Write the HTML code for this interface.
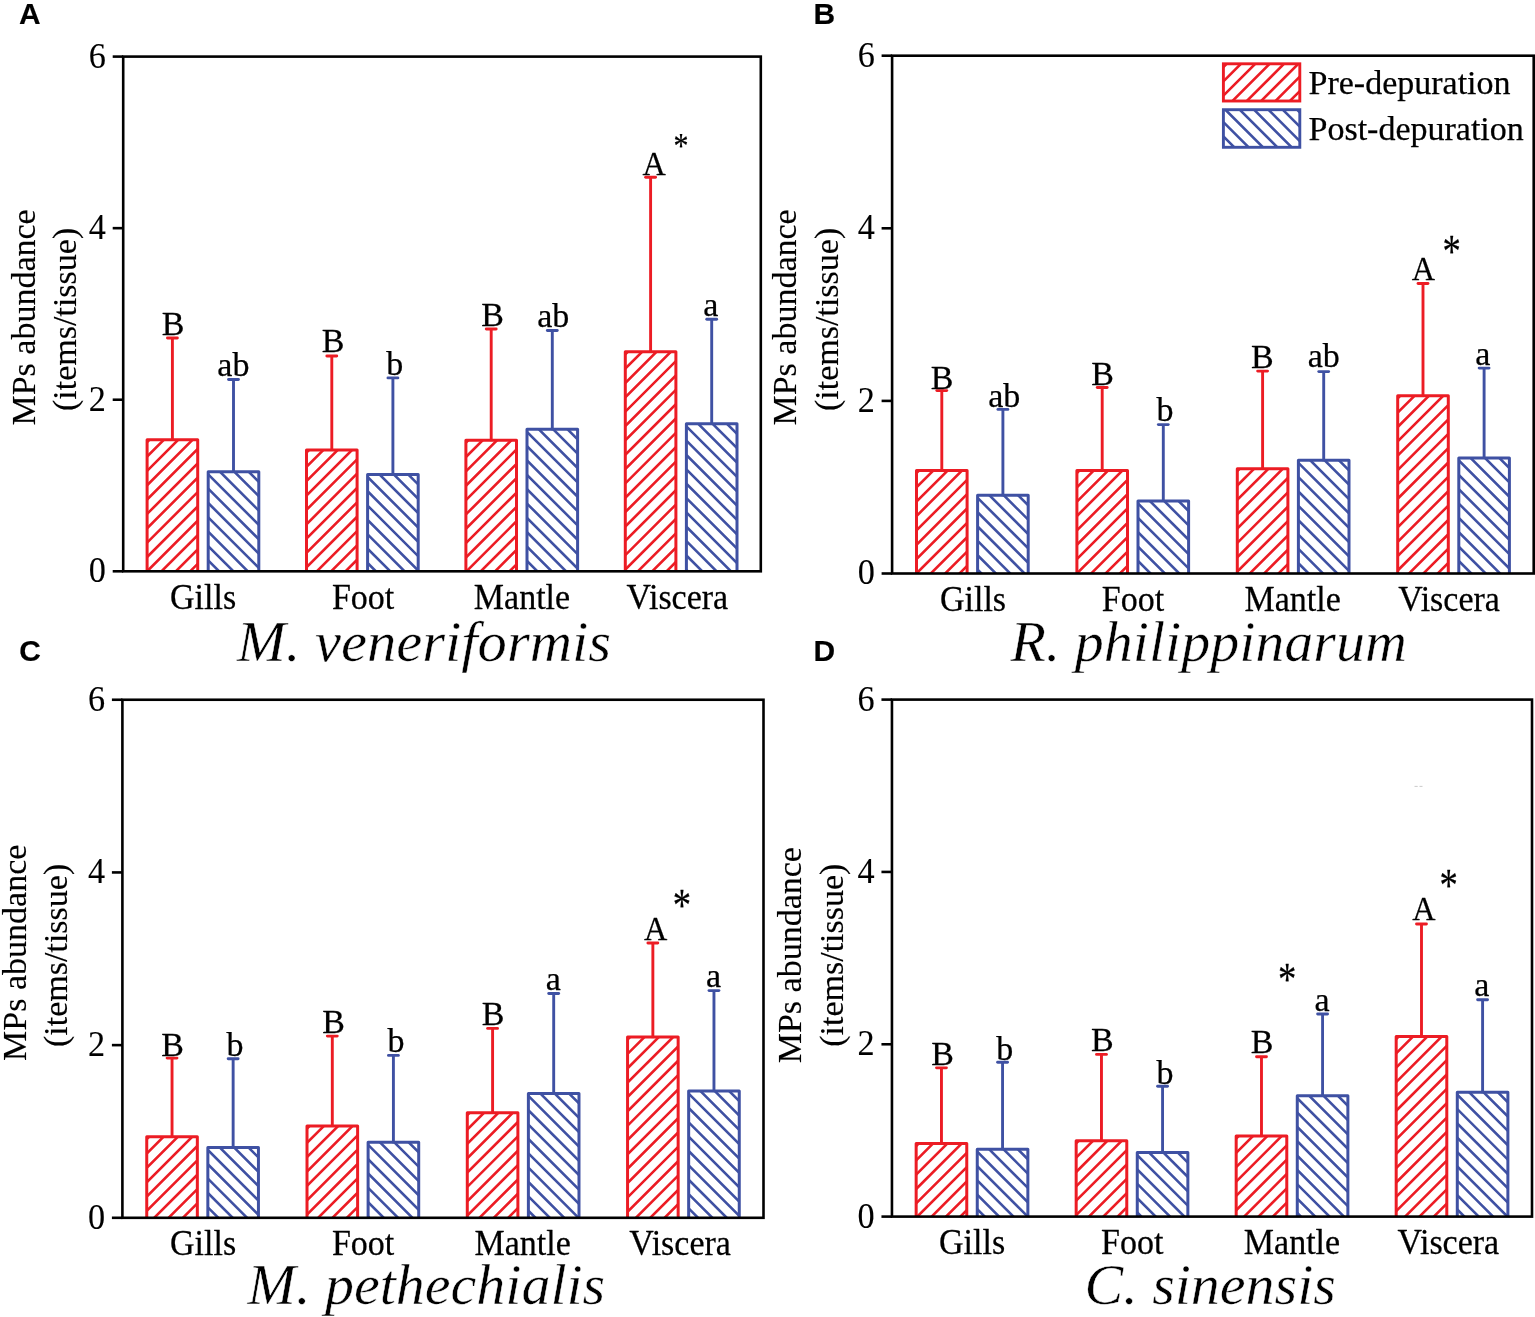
<!DOCTYPE html>
<html lang="en"><head><meta charset="utf-8"><title>MPs abundance in bivalve tissues</title>
<style>html,body{margin:0;padding:0;background:#fff}body{width:1535px;height:1317px;overflow:hidden}svg{display:block;filter:blur(.4px)}text{fill:#000;stroke-linejoin:round}</style>
</head><body>
<svg width="1535" height="1317" viewBox="0 0 1535 1317" role="img" aria-label="MPs abundance in four bivalve species before and after depuration">
<rect width="1535" height="1317" fill="#fff"/>
<g id="panel-A">
<path d="M172.4 440.7V338" stroke="#ec1c24" stroke-width="2.9" fill="none"/>
<path d="M167.45 338H177.35" stroke="#ec1c24" stroke-width="2.9" fill="none" stroke-linecap="round"/>
<clipPath id="c1"><rect x="147.1" y="439.7" width="50.6" height="131.6"/></clipPath>
<path d="M147.1 442.2L197.7 391.6M147.1 456.55L197.7 405.95M147.1 470.9L197.7 420.3M147.1 485.25L197.7 434.65M147.1 499.6L197.7 449M147.1 513.95L197.7 463.35M147.1 528.3L197.7 477.7M147.1 542.65L197.7 492.05M147.1 557L197.7 506.4M147.1 571.35L197.7 520.75M147.1 585.7L197.7 535.1M147.1 600.05L197.7 549.45M147.1 614.4L197.7 563.8" stroke="#ec1c24" stroke-width="2.6" fill="none" clip-path="url(#c1)"/>
<path d="M147.1 571.3V439.7H197.7V571.3" stroke="#ec1c24" stroke-width="3" fill="none" stroke-linejoin="round"/>
<path d="M233.5 472.8V379.5" stroke="#3f51a3" stroke-width="2.9" fill="none"/>
<path d="M228.55 379.5H238.45" stroke="#3f51a3" stroke-width="2.9" fill="none" stroke-linecap="round"/>
<clipPath id="c2"><rect x="208.2" y="471.8" width="50.6" height="99.5"/></clipPath>
<path d="M208.2 431.25L258.8 481.85M208.2 445.6L258.8 496.2M208.2 459.95L258.8 510.55M208.2 474.3L258.8 524.9M208.2 488.65L258.8 539.25M208.2 503L258.8 553.6M208.2 517.35L258.8 567.95M208.2 531.7L258.8 582.3M208.2 546.05L258.8 596.65M208.2 560.4L258.8 611" stroke="#3f51a3" stroke-width="2.6" fill="none" clip-path="url(#c2)"/>
<path d="M208.2 571.3V471.8H258.8V571.3" stroke="#3f51a3" stroke-width="3" fill="none" stroke-linejoin="round"/>
<path d="M331.8 451V356" stroke="#ec1c24" stroke-width="2.9" fill="none"/>
<path d="M326.85 356H336.75" stroke="#ec1c24" stroke-width="2.9" fill="none" stroke-linecap="round"/>
<clipPath id="c3"><rect x="306.5" y="450" width="50.6" height="121.3"/></clipPath>
<path d="M306.5 452.5L357.1 401.9M306.5 466.85L357.1 416.25M306.5 481.2L357.1 430.6M306.5 495.55L357.1 444.95M306.5 509.9L357.1 459.3M306.5 524.25L357.1 473.65M306.5 538.6L357.1 488M306.5 552.95L357.1 502.35M306.5 567.3L357.1 516.7M306.5 581.65L357.1 531.05M306.5 596L357.1 545.4M306.5 610.35L357.1 559.75" stroke="#ec1c24" stroke-width="2.6" fill="none" clip-path="url(#c3)"/>
<path d="M306.5 571.3V450H357.1V571.3" stroke="#ec1c24" stroke-width="3" fill="none" stroke-linejoin="round"/>
<path d="M392.9 475.4V377.9" stroke="#3f51a3" stroke-width="2.9" fill="none"/>
<path d="M387.95 377.9H397.85" stroke="#3f51a3" stroke-width="2.9" fill="none" stroke-linecap="round"/>
<clipPath id="c4"><rect x="367.6" y="474.4" width="50.6" height="96.9"/></clipPath>
<path d="M367.6 433.85L418.2 484.45M367.6 448.2L418.2 498.8M367.6 462.55L418.2 513.15M367.6 476.9L418.2 527.5M367.6 491.25L418.2 541.85M367.6 505.6L418.2 556.2M367.6 519.95L418.2 570.55M367.6 534.3L418.2 584.9M367.6 548.65L418.2 599.25M367.6 563L418.2 613.6" stroke="#3f51a3" stroke-width="2.6" fill="none" clip-path="url(#c4)"/>
<path d="M367.6 571.3V474.4H418.2V571.3" stroke="#3f51a3" stroke-width="3" fill="none" stroke-linejoin="round"/>
<path d="M491.2 441.2V329" stroke="#ec1c24" stroke-width="2.9" fill="none"/>
<path d="M486.25 329H496.15" stroke="#ec1c24" stroke-width="2.9" fill="none" stroke-linecap="round"/>
<clipPath id="c5"><rect x="465.9" y="440.2" width="50.6" height="131.1"/></clipPath>
<path d="M465.9 442.7L516.5 392.1M465.9 457.05L516.5 406.45M465.9 471.4L516.5 420.8M465.9 485.75L516.5 435.15M465.9 500.1L516.5 449.5M465.9 514.45L516.5 463.85M465.9 528.8L516.5 478.2M465.9 543.15L516.5 492.55M465.9 557.5L516.5 506.9M465.9 571.85L516.5 521.25M465.9 586.2L516.5 535.6M465.9 600.55L516.5 549.95M465.9 614.9L516.5 564.3" stroke="#ec1c24" stroke-width="2.6" fill="none" clip-path="url(#c5)"/>
<path d="M465.9 571.3V440.2H516.5V571.3" stroke="#ec1c24" stroke-width="3" fill="none" stroke-linejoin="round"/>
<path d="M552.3 430.3V330.45" stroke="#3f51a3" stroke-width="2.9" fill="none"/>
<path d="M547.35 330.45H557.25" stroke="#3f51a3" stroke-width="2.9" fill="none" stroke-linecap="round"/>
<clipPath id="c6"><rect x="527" y="429.3" width="50.6" height="142"/></clipPath>
<path d="M527 388.75L577.6 439.35M527 403.1L577.6 453.7M527 417.45L577.6 468.05M527 431.8L577.6 482.4M527 446.15L577.6 496.75M527 460.5L577.6 511.1M527 474.85L577.6 525.45M527 489.2L577.6 539.8M527 503.55L577.6 554.15M527 517.9L577.6 568.5M527 532.25L577.6 582.85M527 546.6L577.6 597.2M527 560.95L577.6 611.55" stroke="#3f51a3" stroke-width="2.6" fill="none" clip-path="url(#c6)"/>
<path d="M527 571.3V429.3H577.6V571.3" stroke="#3f51a3" stroke-width="3" fill="none" stroke-linejoin="round"/>
<path d="M650.6 352.8V177.3" stroke="#ec1c24" stroke-width="2.9" fill="none"/>
<path d="M645.65 177.3H655.55" stroke="#ec1c24" stroke-width="2.9" fill="none" stroke-linecap="round"/>
<clipPath id="c7"><rect x="625.3" y="351.8" width="50.6" height="219.5"/></clipPath>
<path d="M625.3 354.3L675.9 303.7M625.3 368.65L675.9 318.05M625.3 383L675.9 332.4M625.3 397.35L675.9 346.75M625.3 411.7L675.9 361.1M625.3 426.05L675.9 375.45M625.3 440.4L675.9 389.8M625.3 454.75L675.9 404.15M625.3 469.1L675.9 418.5M625.3 483.45L675.9 432.85M625.3 497.8L675.9 447.2M625.3 512.15L675.9 461.55M625.3 526.5L675.9 475.9M625.3 540.85L675.9 490.25M625.3 555.2L675.9 504.6M625.3 569.55L675.9 518.95M625.3 583.9L675.9 533.3M625.3 598.25L675.9 547.65M625.3 612.6L675.9 562" stroke="#ec1c24" stroke-width="2.6" fill="none" clip-path="url(#c7)"/>
<path d="M625.3 571.3V351.8H675.9V571.3" stroke="#ec1c24" stroke-width="3" fill="none" stroke-linejoin="round"/>
<path d="M711.7 424.8V319.2" stroke="#3f51a3" stroke-width="2.9" fill="none"/>
<path d="M706.75 319.2H716.65" stroke="#3f51a3" stroke-width="2.9" fill="none" stroke-linecap="round"/>
<clipPath id="c8"><rect x="686.4" y="423.8" width="50.6" height="147.5"/></clipPath>
<path d="M686.4 383.25L737 433.85M686.4 397.6L737 448.2M686.4 411.95L737 462.55M686.4 426.3L737 476.9M686.4 440.65L737 491.25M686.4 455L737 505.6M686.4 469.35L737 519.95M686.4 483.7L737 534.3M686.4 498.05L737 548.65M686.4 512.4L737 563M686.4 526.75L737 577.35M686.4 541.1L737 591.7M686.4 555.45L737 606.05M686.4 569.8L737 620.4" stroke="#3f51a3" stroke-width="2.6" fill="none" clip-path="url(#c8)"/>
<path d="M686.4 571.3V423.8H737V571.3" stroke="#3f51a3" stroke-width="3" fill="none" stroke-linejoin="round"/>
<rect x="123.2" y="56.6" width="637.6" height="514.7" fill="none" stroke="#000" stroke-width="2.6"/>
<path d="M112.7 571.3H123.2" stroke="#000" stroke-width="2.6"/>
<text transform="translate(105.9 582.2) scale(1 1.07)" font-family="'Liberation Serif',serif" font-size="34.2" text-anchor="end" stroke="#000" stroke-width="0.1">0</text>
<path d="M112.7 399.73H123.2" stroke="#000" stroke-width="2.6"/>
<text transform="translate(105.9 410.63) scale(1 1.07)" font-family="'Liberation Serif',serif" font-size="34.2" text-anchor="end" stroke="#000" stroke-width="0.1">2</text>
<path d="M112.7 228.17H123.2" stroke="#000" stroke-width="2.6"/>
<text transform="translate(105.9 239.07) scale(1 1.07)" font-family="'Liberation Serif',serif" font-size="34.2" text-anchor="end" stroke="#000" stroke-width="0.1">4</text>
<path d="M112.7 56.6H123.2" stroke="#000" stroke-width="2.6"/>
<text transform="translate(105.9 67.5) scale(1 1.07)" font-family="'Liberation Serif',serif" font-size="34.2" text-anchor="end" stroke="#000" stroke-width="0.1">6</text>
<text transform="translate(203.1 609.2) scale(1 1.04)" font-family="'Liberation Serif',serif" font-size="34" text-anchor="middle" stroke="#000" stroke-width="0.25">Gills</text>
<text transform="translate(363.1 609.2) scale(1 1.04)" font-family="'Liberation Serif',serif" font-size="34" text-anchor="middle" stroke="#000" stroke-width="0.25">Foot</text>
<text transform="translate(522 609.2) scale(1 1.04)" font-family="'Liberation Serif',serif" font-size="34" text-anchor="middle" stroke="#000" stroke-width="0.25">Mantle</text>
<text transform="translate(677.3 609.2) scale(1 1.04)" font-family="'Liberation Serif',serif" font-size="34" text-anchor="middle" stroke="#000" stroke-width="0.25">Viscera</text>
<text transform="translate(173.2 334.7) scale(1 1.01)" font-family="'Liberation Serif',serif" font-size="34" text-anchor="middle" stroke="#000" stroke-width="0.25">B</text>
<text x="233.4" y="376.4" font-family="'Liberation Serif',serif" font-size="34" text-anchor="middle" stroke="#000" stroke-width="0.25">ab</text>
<text transform="translate(333.2 352.3) scale(1 1.01)" font-family="'Liberation Serif',serif" font-size="34" text-anchor="middle" stroke="#000" stroke-width="0.25">B</text>
<text x="394.7" y="374.7" font-family="'Liberation Serif',serif" font-size="34" text-anchor="middle" stroke="#000" stroke-width="0.25">b</text>
<text transform="translate(492.6 325.8) scale(1 1.01)" font-family="'Liberation Serif',serif" font-size="34" text-anchor="middle" stroke="#000" stroke-width="0.25">B</text>
<text x="553.3" y="326.5" font-family="'Liberation Serif',serif" font-size="34" text-anchor="middle" stroke="#000" stroke-width="0.25">ab</text>
<text transform="translate(654.2 174.8) scale(0.95 1)" font-family="'Liberation Serif',serif" font-size="34" text-anchor="middle" stroke="#000" stroke-width="0.25">A</text>
<text x="710.8" y="315.9" font-family="'Liberation Serif',serif" font-size="34" text-anchor="middle" stroke="#000" stroke-width="0.25">a</text>
<text transform="translate(681.1 158.3) scale(1 1.21)" font-family="'Liberation Serif',serif" font-size="30" text-anchor="middle" stroke="#000" stroke-width="0.2">*</text>
<text transform="translate(35.2 317.4) rotate(-90) scale(1 1)" font-family="'Liberation Serif',serif" font-size="34" text-anchor="middle" stroke="#000" stroke-width="0.15">MPs abundance</text>
<text transform="translate(76 319.4) rotate(-90) scale(1 1)" font-family="'Liberation Serif',serif" font-size="34" text-anchor="middle" stroke="#000" stroke-width="0.15">(items/tissue)</text>
<text transform="translate(424 660.6) scale(1.01 1)" font-family="'Liberation Serif',serif" font-size="58" text-anchor="middle" font-style="italic" stroke="#fff" stroke-width="0.45">M. veneriformis</text>
<text transform="translate(19.1 24) scale(1.04 1.0001)" font-family="'Liberation Sans',sans-serif" font-size="28.8" text-anchor="start" font-weight="bold" stroke="#000" stroke-width="0.15">A</text>
</g>
<g id="panel-B">
<path d="M941.8 471.5V390.6" stroke="#ec1c24" stroke-width="2.9" fill="none"/>
<path d="M936.85 390.6H946.75" stroke="#ec1c24" stroke-width="2.9" fill="none" stroke-linecap="round"/>
<clipPath id="c9"><rect x="916.5" y="470.5" width="50.6" height="103"/></clipPath>
<path d="M916.5 473L967.1 422.4M916.5 487.35L967.1 436.75M916.5 501.7L967.1 451.1M916.5 516.05L967.1 465.45M916.5 530.4L967.1 479.8M916.5 544.75L967.1 494.15M916.5 559.1L967.1 508.5M916.5 573.45L967.1 522.85M916.5 587.8L967.1 537.2M916.5 602.15L967.1 551.55M916.5 616.5L967.1 565.9" stroke="#ec1c24" stroke-width="2.6" fill="none" clip-path="url(#c9)"/>
<path d="M916.5 573.5V470.5H967.1V573.5" stroke="#ec1c24" stroke-width="3" fill="none" stroke-linejoin="round"/>
<path d="M1002.9 496.3V409.4" stroke="#3f51a3" stroke-width="2.9" fill="none"/>
<path d="M997.95 409.4H1007.85" stroke="#3f51a3" stroke-width="2.9" fill="none" stroke-linecap="round"/>
<clipPath id="c10"><rect x="977.6" y="495.3" width="50.6" height="78.2"/></clipPath>
<path d="M977.6 454.75L1028.2 505.35M977.6 469.1L1028.2 519.7M977.6 483.45L1028.2 534.05M977.6 497.8L1028.2 548.4M977.6 512.15L1028.2 562.75M977.6 526.5L1028.2 577.1M977.6 540.85L1028.2 591.45M977.6 555.2L1028.2 605.8M977.6 569.55L1028.2 620.15" stroke="#3f51a3" stroke-width="2.6" fill="none" clip-path="url(#c10)"/>
<path d="M977.6 573.5V495.3H1028.2V573.5" stroke="#3f51a3" stroke-width="3" fill="none" stroke-linejoin="round"/>
<path d="M1102.2 471.5V387.5" stroke="#ec1c24" stroke-width="2.9" fill="none"/>
<path d="M1097.25 387.5H1107.15" stroke="#ec1c24" stroke-width="2.9" fill="none" stroke-linecap="round"/>
<clipPath id="c11"><rect x="1076.9" y="470.5" width="50.6" height="103"/></clipPath>
<path d="M1076.9 473L1127.5 422.4M1076.9 487.35L1127.5 436.75M1076.9 501.7L1127.5 451.1M1076.9 516.05L1127.5 465.45M1076.9 530.4L1127.5 479.8M1076.9 544.75L1127.5 494.15M1076.9 559.1L1127.5 508.5M1076.9 573.45L1127.5 522.85M1076.9 587.8L1127.5 537.2M1076.9 602.15L1127.5 551.55M1076.9 616.5L1127.5 565.9" stroke="#ec1c24" stroke-width="2.6" fill="none" clip-path="url(#c11)"/>
<path d="M1076.9 573.5V470.5H1127.5V573.5" stroke="#ec1c24" stroke-width="3" fill="none" stroke-linejoin="round"/>
<path d="M1163.3 502V424.6" stroke="#3f51a3" stroke-width="2.9" fill="none"/>
<path d="M1158.35 424.6H1168.25" stroke="#3f51a3" stroke-width="2.9" fill="none" stroke-linecap="round"/>
<clipPath id="c12"><rect x="1138" y="501" width="50.6" height="72.5"/></clipPath>
<path d="M1138 460.45L1188.6 511.05M1138 474.8L1188.6 525.4M1138 489.15L1188.6 539.75M1138 503.5L1188.6 554.1M1138 517.85L1188.6 568.45M1138 532.2L1188.6 582.8M1138 546.55L1188.6 597.15M1138 560.9L1188.6 611.5M1138 575.25L1188.6 625.85" stroke="#3f51a3" stroke-width="2.6" fill="none" clip-path="url(#c12)"/>
<path d="M1138 573.5V501H1188.6V573.5" stroke="#3f51a3" stroke-width="3" fill="none" stroke-linejoin="round"/>
<path d="M1262.6 469.7V371.1" stroke="#ec1c24" stroke-width="2.9" fill="none"/>
<path d="M1257.65 371.1H1267.55" stroke="#ec1c24" stroke-width="2.9" fill="none" stroke-linecap="round"/>
<clipPath id="c13"><rect x="1237.3" y="468.7" width="50.6" height="104.8"/></clipPath>
<path d="M1237.3 471.2L1287.9 420.6M1237.3 485.55L1287.9 434.95M1237.3 499.9L1287.9 449.3M1237.3 514.25L1287.9 463.65M1237.3 528.6L1287.9 478M1237.3 542.95L1287.9 492.35M1237.3 557.3L1287.9 506.7M1237.3 571.65L1287.9 521.05M1237.3 586L1287.9 535.4M1237.3 600.35L1287.9 549.75M1237.3 614.7L1287.9 564.1" stroke="#ec1c24" stroke-width="2.6" fill="none" clip-path="url(#c13)"/>
<path d="M1237.3 573.5V468.7H1287.9V573.5" stroke="#ec1c24" stroke-width="3" fill="none" stroke-linejoin="round"/>
<path d="M1323.7 461.3V371.6" stroke="#3f51a3" stroke-width="2.9" fill="none"/>
<path d="M1318.75 371.6H1328.65" stroke="#3f51a3" stroke-width="2.9" fill="none" stroke-linecap="round"/>
<clipPath id="c14"><rect x="1298.4" y="460.3" width="50.6" height="113.2"/></clipPath>
<path d="M1298.4 419.75L1349 470.35M1298.4 434.1L1349 484.7M1298.4 448.45L1349 499.05M1298.4 462.8L1349 513.4M1298.4 477.15L1349 527.75M1298.4 491.5L1349 542.1M1298.4 505.85L1349 556.45M1298.4 520.2L1349 570.8M1298.4 534.55L1349 585.15M1298.4 548.9L1349 599.5M1298.4 563.25L1349 613.85" stroke="#3f51a3" stroke-width="2.6" fill="none" clip-path="url(#c14)"/>
<path d="M1298.4 573.5V460.3H1349V573.5" stroke="#3f51a3" stroke-width="3" fill="none" stroke-linejoin="round"/>
<path d="M1423 396.8V283.5" stroke="#ec1c24" stroke-width="2.9" fill="none"/>
<path d="M1418.05 283.5H1427.95" stroke="#ec1c24" stroke-width="2.9" fill="none" stroke-linecap="round"/>
<clipPath id="c15"><rect x="1397.7" y="395.8" width="50.6" height="177.7"/></clipPath>
<path d="M1397.7 398.3L1448.3 347.7M1397.7 412.65L1448.3 362.05M1397.7 427L1448.3 376.4M1397.7 441.35L1448.3 390.75M1397.7 455.7L1448.3 405.1M1397.7 470.05L1448.3 419.45M1397.7 484.4L1448.3 433.8M1397.7 498.75L1448.3 448.15M1397.7 513.1L1448.3 462.5M1397.7 527.45L1448.3 476.85M1397.7 541.8L1448.3 491.2M1397.7 556.15L1448.3 505.55M1397.7 570.5L1448.3 519.9M1397.7 584.85L1448.3 534.25M1397.7 599.2L1448.3 548.6M1397.7 613.55L1448.3 562.95" stroke="#ec1c24" stroke-width="2.6" fill="none" clip-path="url(#c15)"/>
<path d="M1397.7 573.5V395.8H1448.3V573.5" stroke="#ec1c24" stroke-width="3" fill="none" stroke-linejoin="round"/>
<path d="M1484.1 459V368.1" stroke="#3f51a3" stroke-width="2.9" fill="none"/>
<path d="M1479.15 368.1H1489.05" stroke="#3f51a3" stroke-width="2.9" fill="none" stroke-linecap="round"/>
<clipPath id="c16"><rect x="1458.8" y="458" width="50.6" height="115.5"/></clipPath>
<path d="M1458.8 417.45L1509.4 468.05M1458.8 431.8L1509.4 482.4M1458.8 446.15L1509.4 496.75M1458.8 460.5L1509.4 511.1M1458.8 474.85L1509.4 525.45M1458.8 489.2L1509.4 539.8M1458.8 503.55L1509.4 554.15M1458.8 517.9L1509.4 568.5M1458.8 532.25L1509.4 582.85M1458.8 546.6L1509.4 597.2M1458.8 560.95L1509.4 611.55M1458.8 575.3L1509.4 625.9" stroke="#3f51a3" stroke-width="2.6" fill="none" clip-path="url(#c16)"/>
<path d="M1458.8 573.5V458H1509.4V573.5" stroke="#3f51a3" stroke-width="3" fill="none" stroke-linejoin="round"/>
<rect x="892.1" y="55.7" width="641.6" height="517.8" fill="none" stroke="#000" stroke-width="2.6"/>
<path d="M881.6 573.5H892.1" stroke="#000" stroke-width="2.6"/>
<text transform="translate(874.8 584.4) scale(1 1.07)" font-family="'Liberation Serif',serif" font-size="34.2" text-anchor="end" stroke="#000" stroke-width="0.1">0</text>
<path d="M881.6 400.9H892.1" stroke="#000" stroke-width="2.6"/>
<text transform="translate(874.8 411.8) scale(1 1.07)" font-family="'Liberation Serif',serif" font-size="34.2" text-anchor="end" stroke="#000" stroke-width="0.1">2</text>
<path d="M881.6 228.3H892.1" stroke="#000" stroke-width="2.6"/>
<text transform="translate(874.8 239.2) scale(1 1.07)" font-family="'Liberation Serif',serif" font-size="34.2" text-anchor="end" stroke="#000" stroke-width="0.1">4</text>
<path d="M881.6 55.7H892.1" stroke="#000" stroke-width="2.6"/>
<text transform="translate(874.8 66.6) scale(1 1.07)" font-family="'Liberation Serif',serif" font-size="34.2" text-anchor="end" stroke="#000" stroke-width="0.1">6</text>
<text transform="translate(973 611.2) scale(1 1.04)" font-family="'Liberation Serif',serif" font-size="34" text-anchor="middle" stroke="#000" stroke-width="0.25">Gills</text>
<text transform="translate(1133 611.2) scale(1 1.04)" font-family="'Liberation Serif',serif" font-size="34" text-anchor="middle" stroke="#000" stroke-width="0.25">Foot</text>
<text transform="translate(1292.6 611.2) scale(1 1.04)" font-family="'Liberation Serif',serif" font-size="34" text-anchor="middle" stroke="#000" stroke-width="0.25">Mantle</text>
<text transform="translate(1449 611.2) scale(1 1.04)" font-family="'Liberation Serif',serif" font-size="34" text-anchor="middle" stroke="#000" stroke-width="0.25">Viscera</text>
<text transform="translate(942.2 388.5) scale(1 1.01)" font-family="'Liberation Serif',serif" font-size="34" text-anchor="middle" stroke="#000" stroke-width="0.25">B</text>
<text x="1004.3" y="406.6" font-family="'Liberation Serif',serif" font-size="34" text-anchor="middle" stroke="#000" stroke-width="0.25">ab</text>
<text transform="translate(1102.5 385.4) scale(1 1.01)" font-family="'Liberation Serif',serif" font-size="34" text-anchor="middle" stroke="#000" stroke-width="0.25">B</text>
<text x="1165" y="421.3" font-family="'Liberation Serif',serif" font-size="34" text-anchor="middle" stroke="#000" stroke-width="0.25">b</text>
<text transform="translate(1262.3 367.5) scale(1 1.01)" font-family="'Liberation Serif',serif" font-size="34" text-anchor="middle" stroke="#000" stroke-width="0.25">B</text>
<text x="1323.7" y="367.4" font-family="'Liberation Serif',serif" font-size="34" text-anchor="middle" stroke="#000" stroke-width="0.25">ab</text>
<text transform="translate(1423.3 280) scale(0.95 1)" font-family="'Liberation Serif',serif" font-size="34" text-anchor="middle" stroke="#000" stroke-width="0.25">A</text>
<text x="1482.7" y="365.3" font-family="'Liberation Serif',serif" font-size="34" text-anchor="middle" stroke="#000" stroke-width="0.25">a</text>
<text transform="translate(1451.7 267.1) scale(1 1.257)" font-family="'Liberation Serif',serif" font-size="36.7" text-anchor="middle" stroke="#000" stroke-width="0.2">*</text>
<text transform="translate(796.3 317.4) rotate(-90) scale(1 1)" font-family="'Liberation Serif',serif" font-size="34" text-anchor="middle" stroke="#000" stroke-width="0.15">MPs abundance</text>
<text transform="translate(838.3 319.4) rotate(-90) scale(1 1)" font-family="'Liberation Serif',serif" font-size="34" text-anchor="middle" stroke="#000" stroke-width="0.15">(items/tissue)</text>
<text x="1208.6" y="660.7" font-family="'Liberation Serif',serif" font-size="58" text-anchor="middle" font-style="italic" stroke="#fff" stroke-width="0.45">R. philippinarum</text>
<text transform="translate(813.4 24) scale(1.04 1.0001)" font-family="'Liberation Sans',sans-serif" font-size="28.8" text-anchor="start" font-weight="bold" stroke="#000" stroke-width="0.15">B</text>
</g>
<g id="panel-C">
<path d="M172.04 1137.7V1058.1" stroke="#ec1c24" stroke-width="2.9" fill="none"/>
<path d="M167.09 1058.1H176.99" stroke="#ec1c24" stroke-width="2.9" fill="none" stroke-linecap="round"/>
<clipPath id="c17"><rect x="146.74" y="1136.7" width="50.6" height="81.1"/></clipPath>
<path d="M146.74 1139.2L197.34 1088.6M146.74 1153.55L197.34 1102.95M146.74 1167.9L197.34 1117.3M146.74 1182.25L197.34 1131.65M146.74 1196.6L197.34 1146M146.74 1210.95L197.34 1160.35M146.74 1225.3L197.34 1174.7M146.74 1239.65L197.34 1189.05M146.74 1254L197.34 1203.4M146.74 1268.35L197.34 1217.75" stroke="#ec1c24" stroke-width="2.6" fill="none" clip-path="url(#c17)"/>
<path d="M146.74 1217.8V1136.7H197.34V1217.8" stroke="#ec1c24" stroke-width="3" fill="none" stroke-linejoin="round"/>
<path d="M233.14 1148.4V1058.8" stroke="#3f51a3" stroke-width="2.9" fill="none"/>
<path d="M228.19 1058.8H238.09" stroke="#3f51a3" stroke-width="2.9" fill="none" stroke-linecap="round"/>
<clipPath id="c18"><rect x="207.84" y="1147.4" width="50.6" height="70.4"/></clipPath>
<path d="M207.84 1106.85L258.44 1157.45M207.84 1121.2L258.44 1171.8M207.84 1135.55L258.44 1186.15M207.84 1149.9L258.44 1200.5M207.84 1164.25L258.44 1214.85M207.84 1178.6L258.44 1229.2M207.84 1192.95L258.44 1243.55M207.84 1207.3L258.44 1257.9" stroke="#3f51a3" stroke-width="2.6" fill="none" clip-path="url(#c18)"/>
<path d="M207.84 1217.8V1147.4H258.44V1217.8" stroke="#3f51a3" stroke-width="3" fill="none" stroke-linejoin="round"/>
<path d="M332.31 1127V1036.1" stroke="#ec1c24" stroke-width="2.9" fill="none"/>
<path d="M327.36 1036.1H337.26" stroke="#ec1c24" stroke-width="2.9" fill="none" stroke-linecap="round"/>
<clipPath id="c19"><rect x="307.01" y="1126" width="50.6" height="91.8"/></clipPath>
<path d="M307.01 1128.5L357.61 1077.9M307.01 1142.85L357.61 1092.25M307.01 1157.2L357.61 1106.6M307.01 1171.55L357.61 1120.95M307.01 1185.9L357.61 1135.3M307.01 1200.25L357.61 1149.65M307.01 1214.6L357.61 1164M307.01 1228.95L357.61 1178.35M307.01 1243.3L357.61 1192.7M307.01 1257.65L357.61 1207.05" stroke="#ec1c24" stroke-width="2.6" fill="none" clip-path="url(#c19)"/>
<path d="M307.01 1217.8V1126H357.61V1217.8" stroke="#ec1c24" stroke-width="3" fill="none" stroke-linejoin="round"/>
<path d="M393.41 1143.3V1055.4" stroke="#3f51a3" stroke-width="2.9" fill="none"/>
<path d="M388.46 1055.4H398.36" stroke="#3f51a3" stroke-width="2.9" fill="none" stroke-linecap="round"/>
<clipPath id="c20"><rect x="368.11" y="1142.3" width="50.6" height="75.5"/></clipPath>
<path d="M368.11 1101.75L418.71 1152.35M368.11 1116.1L418.71 1166.7M368.11 1130.45L418.71 1181.05M368.11 1144.8L418.71 1195.4M368.11 1159.15L418.71 1209.75M368.11 1173.5L418.71 1224.1M368.11 1187.85L418.71 1238.45M368.11 1202.2L418.71 1252.8M368.11 1216.55L418.71 1267.15" stroke="#3f51a3" stroke-width="2.6" fill="none" clip-path="url(#c20)"/>
<path d="M368.11 1217.8V1142.3H418.71V1217.8" stroke="#3f51a3" stroke-width="3" fill="none" stroke-linejoin="round"/>
<path d="M492.59 1113.7V1028.4" stroke="#ec1c24" stroke-width="2.9" fill="none"/>
<path d="M487.64 1028.4H497.54" stroke="#ec1c24" stroke-width="2.9" fill="none" stroke-linecap="round"/>
<clipPath id="c21"><rect x="467.29" y="1112.7" width="50.6" height="105.1"/></clipPath>
<path d="M467.29 1115.2L517.89 1064.6M467.29 1129.55L517.89 1078.95M467.29 1143.9L517.89 1093.3M467.29 1158.25L517.89 1107.65M467.29 1172.6L517.89 1122M467.29 1186.95L517.89 1136.35M467.29 1201.3L517.89 1150.7M467.29 1215.65L517.89 1165.05M467.29 1230L517.89 1179.4M467.29 1244.35L517.89 1193.75M467.29 1258.7L517.89 1208.1" stroke="#ec1c24" stroke-width="2.6" fill="none" clip-path="url(#c21)"/>
<path d="M467.29 1217.8V1112.7H517.89V1217.8" stroke="#ec1c24" stroke-width="3" fill="none" stroke-linejoin="round"/>
<path d="M553.69 1094.4V993.5" stroke="#3f51a3" stroke-width="2.9" fill="none"/>
<path d="M548.74 993.5H558.64" stroke="#3f51a3" stroke-width="2.9" fill="none" stroke-linecap="round"/>
<clipPath id="c22"><rect x="528.39" y="1093.4" width="50.6" height="124.4"/></clipPath>
<path d="M528.39 1052.85L578.99 1103.45M528.39 1067.2L578.99 1117.8M528.39 1081.55L578.99 1132.15M528.39 1095.9L578.99 1146.5M528.39 1110.25L578.99 1160.85M528.39 1124.6L578.99 1175.2M528.39 1138.95L578.99 1189.55M528.39 1153.3L578.99 1203.9M528.39 1167.65L578.99 1218.25M528.39 1182L578.99 1232.6M528.39 1196.35L578.99 1246.95M528.39 1210.7L578.99 1261.3" stroke="#3f51a3" stroke-width="2.6" fill="none" clip-path="url(#c22)"/>
<path d="M528.39 1217.8V1093.4H578.99V1217.8" stroke="#3f51a3" stroke-width="3" fill="none" stroke-linejoin="round"/>
<path d="M652.86 1038.1V943" stroke="#ec1c24" stroke-width="2.9" fill="none"/>
<path d="M647.91 943H657.81" stroke="#ec1c24" stroke-width="2.9" fill="none" stroke-linecap="round"/>
<clipPath id="c23"><rect x="627.56" y="1037.1" width="50.6" height="180.7"/></clipPath>
<path d="M627.56 1039.6L678.16 989M627.56 1053.95L678.16 1003.35M627.56 1068.3L678.16 1017.7M627.56 1082.65L678.16 1032.05M627.56 1097L678.16 1046.4M627.56 1111.35L678.16 1060.75M627.56 1125.7L678.16 1075.1M627.56 1140.05L678.16 1089.45M627.56 1154.4L678.16 1103.8M627.56 1168.75L678.16 1118.15M627.56 1183.1L678.16 1132.5M627.56 1197.45L678.16 1146.85M627.56 1211.8L678.16 1161.2M627.56 1226.15L678.16 1175.55M627.56 1240.5L678.16 1189.9M627.56 1254.85L678.16 1204.25M627.56 1269.2L678.16 1218.6" stroke="#ec1c24" stroke-width="2.6" fill="none" clip-path="url(#c23)"/>
<path d="M627.56 1217.8V1037.1H678.16V1217.8" stroke="#ec1c24" stroke-width="3" fill="none" stroke-linejoin="round"/>
<path d="M713.96 1092.1V990.6" stroke="#3f51a3" stroke-width="2.9" fill="none"/>
<path d="M709.01 990.6H718.91" stroke="#3f51a3" stroke-width="2.9" fill="none" stroke-linecap="round"/>
<clipPath id="c24"><rect x="688.66" y="1091.1" width="50.6" height="126.7"/></clipPath>
<path d="M688.66 1050.55L739.26 1101.15M688.66 1064.9L739.26 1115.5M688.66 1079.25L739.26 1129.85M688.66 1093.6L739.26 1144.2M688.66 1107.95L739.26 1158.55M688.66 1122.3L739.26 1172.9M688.66 1136.65L739.26 1187.25M688.66 1151L739.26 1201.6M688.66 1165.35L739.26 1215.95M688.66 1179.7L739.26 1230.3M688.66 1194.05L739.26 1244.65M688.66 1208.4L739.26 1259" stroke="#3f51a3" stroke-width="2.6" fill="none" clip-path="url(#c24)"/>
<path d="M688.66 1217.8V1091.1H739.26V1217.8" stroke="#3f51a3" stroke-width="3" fill="none" stroke-linejoin="round"/>
<rect x="122.4" y="699.75" width="641.1" height="518.05" fill="none" stroke="#000" stroke-width="2.6"/>
<path d="M111.9 1217.8H122.4" stroke="#000" stroke-width="2.6"/>
<text transform="translate(105.1 1228.7) scale(1 1.07)" font-family="'Liberation Serif',serif" font-size="34.2" text-anchor="end" stroke="#000" stroke-width="0.1">0</text>
<path d="M111.9 1045.12H122.4" stroke="#000" stroke-width="2.6"/>
<text transform="translate(105.1 1056.02) scale(1 1.07)" font-family="'Liberation Serif',serif" font-size="34.2" text-anchor="end" stroke="#000" stroke-width="0.1">2</text>
<path d="M111.9 872.43H122.4" stroke="#000" stroke-width="2.6"/>
<text transform="translate(105.1 883.33) scale(1 1.07)" font-family="'Liberation Serif',serif" font-size="34.2" text-anchor="end" stroke="#000" stroke-width="0.1">4</text>
<path d="M111.9 699.75H122.4" stroke="#000" stroke-width="2.6"/>
<text transform="translate(105.1 710.65) scale(1 1.07)" font-family="'Liberation Serif',serif" font-size="34.2" text-anchor="end" stroke="#000" stroke-width="0.1">6</text>
<text transform="translate(203.1 1255) scale(1 1.04)" font-family="'Liberation Serif',serif" font-size="34" text-anchor="middle" stroke="#000" stroke-width="0.25">Gills</text>
<text transform="translate(363.1 1255) scale(1 1.04)" font-family="'Liberation Serif',serif" font-size="34" text-anchor="middle" stroke="#000" stroke-width="0.25">Foot</text>
<text transform="translate(522.7 1255) scale(1 1.04)" font-family="'Liberation Serif',serif" font-size="34" text-anchor="middle" stroke="#000" stroke-width="0.25">Mantle</text>
<text transform="translate(680 1255) scale(1 1.04)" font-family="'Liberation Serif',serif" font-size="34" text-anchor="middle" stroke="#000" stroke-width="0.25">Viscera</text>
<text transform="translate(172.7 1055.6) scale(1 1.01)" font-family="'Liberation Serif',serif" font-size="34" text-anchor="middle" stroke="#000" stroke-width="0.25">B</text>
<text x="235.1" y="1055.5" font-family="'Liberation Serif',serif" font-size="34" text-anchor="middle" stroke="#000" stroke-width="0.25">b</text>
<text transform="translate(333.5 1032.9) scale(1 1.01)" font-family="'Liberation Serif',serif" font-size="34" text-anchor="middle" stroke="#000" stroke-width="0.25">B</text>
<text x="396.1" y="1052.4" font-family="'Liberation Serif',serif" font-size="34" text-anchor="middle" stroke="#000" stroke-width="0.25">b</text>
<text transform="translate(493 1024.8) scale(1 1.01)" font-family="'Liberation Serif',serif" font-size="34" text-anchor="middle" stroke="#000" stroke-width="0.25">B</text>
<text x="553.2" y="990.3" font-family="'Liberation Serif',serif" font-size="34" text-anchor="middle" stroke="#000" stroke-width="0.25">a</text>
<text transform="translate(655.7 939.7) scale(0.95 1)" font-family="'Liberation Serif',serif" font-size="34" text-anchor="middle" stroke="#000" stroke-width="0.25">A</text>
<text x="713.6" y="987.2" font-family="'Liberation Serif',serif" font-size="34" text-anchor="middle" stroke="#000" stroke-width="0.25">a</text>
<text transform="translate(681.9 920.9) scale(1 1.257)" font-family="'Liberation Serif',serif" font-size="36.7" text-anchor="middle" stroke="#000" stroke-width="0.2">*</text>
<text transform="translate(26 952.8) rotate(-90) scale(1 1)" font-family="'Liberation Serif',serif" font-size="34" text-anchor="middle" stroke="#000" stroke-width="0.15">MPs abundance</text>
<text transform="translate(67.2 955.4) rotate(-90) scale(1 1)" font-family="'Liberation Serif',serif" font-size="34" text-anchor="middle" stroke="#000" stroke-width="0.15">(items/tissue)</text>
<text x="426.4" y="1304.1" font-family="'Liberation Serif',serif" font-size="58" text-anchor="middle" font-style="italic" stroke="#fff" stroke-width="0.45">M. pethechialis</text>
<text transform="translate(19.3 661) scale(1.04 1.0001)" font-family="'Liberation Sans',sans-serif" font-size="28.8" text-anchor="start" font-weight="bold" stroke="#000" stroke-width="0.15">C</text>
</g>
<g id="panel-D">
<path d="M941.46 1144.5V1067.85" stroke="#ec1c24" stroke-width="2.9" fill="none"/>
<path d="M936.51 1067.85H946.41" stroke="#ec1c24" stroke-width="2.9" fill="none" stroke-linecap="round"/>
<clipPath id="c25"><rect x="916.16" y="1143.5" width="50.6" height="73.1"/></clipPath>
<path d="M916.16 1146L966.76 1095.4M916.16 1160.35L966.76 1109.75M916.16 1174.7L966.76 1124.1M916.16 1189.05L966.76 1138.45M916.16 1203.4L966.76 1152.8M916.16 1217.75L966.76 1167.15M916.16 1232.1L966.76 1181.5M916.16 1246.45L966.76 1195.85M916.16 1260.8L966.76 1210.2" stroke="#ec1c24" stroke-width="2.6" fill="none" clip-path="url(#c25)"/>
<path d="M916.16 1216.6V1143.5H966.76V1216.6" stroke="#ec1c24" stroke-width="3" fill="none" stroke-linejoin="round"/>
<path d="M1002.56 1150.2V1062.3" stroke="#3f51a3" stroke-width="2.9" fill="none"/>
<path d="M997.61 1062.3H1007.51" stroke="#3f51a3" stroke-width="2.9" fill="none" stroke-linecap="round"/>
<clipPath id="c26"><rect x="977.26" y="1149.2" width="50.6" height="67.4"/></clipPath>
<path d="M977.26 1108.65L1027.86 1159.25M977.26 1123L1027.86 1173.6M977.26 1137.35L1027.86 1187.95M977.26 1151.7L1027.86 1202.3M977.26 1166.05L1027.86 1216.65M977.26 1180.4L1027.86 1231M977.26 1194.75L1027.86 1245.35M977.26 1209.1L1027.86 1259.7" stroke="#3f51a3" stroke-width="2.6" fill="none" clip-path="url(#c26)"/>
<path d="M977.26 1216.6V1149.2H1027.86V1216.6" stroke="#3f51a3" stroke-width="3" fill="none" stroke-linejoin="round"/>
<path d="M1101.47 1141.8V1054.4" stroke="#ec1c24" stroke-width="2.9" fill="none"/>
<path d="M1096.52 1054.4H1106.42" stroke="#ec1c24" stroke-width="2.9" fill="none" stroke-linecap="round"/>
<clipPath id="c27"><rect x="1076.17" y="1140.8" width="50.6" height="75.8"/></clipPath>
<path d="M1076.17 1143.3L1126.77 1092.7M1076.17 1157.65L1126.77 1107.05M1076.17 1172L1126.77 1121.4M1076.17 1186.35L1126.77 1135.75M1076.17 1200.7L1126.77 1150.1M1076.17 1215.05L1126.77 1164.45M1076.17 1229.4L1126.77 1178.8M1076.17 1243.75L1126.77 1193.15M1076.17 1258.1L1126.77 1207.5" stroke="#ec1c24" stroke-width="2.6" fill="none" clip-path="url(#c27)"/>
<path d="M1076.17 1216.6V1140.8H1126.77V1216.6" stroke="#ec1c24" stroke-width="3" fill="none" stroke-linejoin="round"/>
<path d="M1162.57 1153.6V1086.3" stroke="#3f51a3" stroke-width="2.9" fill="none"/>
<path d="M1157.62 1086.3H1167.52" stroke="#3f51a3" stroke-width="2.9" fill="none" stroke-linecap="round"/>
<clipPath id="c28"><rect x="1137.27" y="1152.6" width="50.6" height="64"/></clipPath>
<path d="M1137.27 1112.05L1187.87 1162.65M1137.27 1126.4L1187.87 1177M1137.27 1140.75L1187.87 1191.35M1137.27 1155.1L1187.87 1205.7M1137.27 1169.45L1187.87 1220.05M1137.27 1183.8L1187.87 1234.4M1137.27 1198.15L1187.87 1248.75M1137.27 1212.5L1187.87 1263.1" stroke="#3f51a3" stroke-width="2.6" fill="none" clip-path="url(#c28)"/>
<path d="M1137.27 1216.6V1152.6H1187.87V1216.6" stroke="#3f51a3" stroke-width="3" fill="none" stroke-linejoin="round"/>
<path d="M1261.48 1137V1056.8" stroke="#ec1c24" stroke-width="2.9" fill="none"/>
<path d="M1256.53 1056.8H1266.43" stroke="#ec1c24" stroke-width="2.9" fill="none" stroke-linecap="round"/>
<clipPath id="c29"><rect x="1236.18" y="1136" width="50.6" height="80.6"/></clipPath>
<path d="M1236.18 1138.5L1286.78 1087.9M1236.18 1152.85L1286.78 1102.25M1236.18 1167.2L1286.78 1116.6M1236.18 1181.55L1286.78 1130.95M1236.18 1195.9L1286.78 1145.3M1236.18 1210.25L1286.78 1159.65M1236.18 1224.6L1286.78 1174M1236.18 1238.95L1286.78 1188.35M1236.18 1253.3L1286.78 1202.7M1236.18 1267.65L1286.78 1217.05" stroke="#ec1c24" stroke-width="2.6" fill="none" clip-path="url(#c29)"/>
<path d="M1236.18 1216.6V1136H1286.78V1216.6" stroke="#ec1c24" stroke-width="3" fill="none" stroke-linejoin="round"/>
<path d="M1322.58 1096.7V1013.95" stroke="#3f51a3" stroke-width="2.9" fill="none"/>
<path d="M1317.63 1013.95H1327.53" stroke="#3f51a3" stroke-width="2.9" fill="none" stroke-linecap="round"/>
<clipPath id="c30"><rect x="1297.28" y="1095.7" width="50.6" height="120.9"/></clipPath>
<path d="M1297.28 1055.15L1347.88 1105.75M1297.28 1069.5L1347.88 1120.1M1297.28 1083.85L1347.88 1134.45M1297.28 1098.2L1347.88 1148.8M1297.28 1112.55L1347.88 1163.15M1297.28 1126.9L1347.88 1177.5M1297.28 1141.25L1347.88 1191.85M1297.28 1155.6L1347.88 1206.2M1297.28 1169.95L1347.88 1220.55M1297.28 1184.3L1347.88 1234.9M1297.28 1198.65L1347.88 1249.25M1297.28 1213L1347.88 1263.6" stroke="#3f51a3" stroke-width="2.6" fill="none" clip-path="url(#c30)"/>
<path d="M1297.28 1216.6V1095.7H1347.88V1216.6" stroke="#3f51a3" stroke-width="3" fill="none" stroke-linejoin="round"/>
<path d="M1421.49 1037.5V924" stroke="#ec1c24" stroke-width="2.9" fill="none"/>
<path d="M1416.54 924H1426.44" stroke="#ec1c24" stroke-width="2.9" fill="none" stroke-linecap="round"/>
<clipPath id="c31"><rect x="1396.19" y="1036.5" width="50.6" height="180.1"/></clipPath>
<path d="M1396.19 1039L1446.79 988.4M1396.19 1053.35L1446.79 1002.75M1396.19 1067.7L1446.79 1017.1M1396.19 1082.05L1446.79 1031.45M1396.19 1096.4L1446.79 1045.8M1396.19 1110.75L1446.79 1060.15M1396.19 1125.1L1446.79 1074.5M1396.19 1139.45L1446.79 1088.85M1396.19 1153.8L1446.79 1103.2M1396.19 1168.15L1446.79 1117.55M1396.19 1182.5L1446.79 1131.9M1396.19 1196.85L1446.79 1146.25M1396.19 1211.2L1446.79 1160.6M1396.19 1225.55L1446.79 1174.95M1396.19 1239.9L1446.79 1189.3M1396.19 1254.25L1446.79 1203.65M1396.19 1268.6L1446.79 1218" stroke="#ec1c24" stroke-width="2.6" fill="none" clip-path="url(#c31)"/>
<path d="M1396.19 1216.6V1036.5H1446.79V1216.6" stroke="#ec1c24" stroke-width="3" fill="none" stroke-linejoin="round"/>
<path d="M1482.59 1093.2V999.7" stroke="#3f51a3" stroke-width="2.9" fill="none"/>
<path d="M1477.64 999.7H1487.54" stroke="#3f51a3" stroke-width="2.9" fill="none" stroke-linecap="round"/>
<clipPath id="c32"><rect x="1457.29" y="1092.2" width="50.6" height="124.4"/></clipPath>
<path d="M1457.29 1051.65L1507.89 1102.25M1457.29 1066L1507.89 1116.6M1457.29 1080.35L1507.89 1130.95M1457.29 1094.7L1507.89 1145.3M1457.29 1109.05L1507.89 1159.65M1457.29 1123.4L1507.89 1174M1457.29 1137.75L1507.89 1188.35M1457.29 1152.1L1507.89 1202.7M1457.29 1166.45L1507.89 1217.05M1457.29 1180.8L1507.89 1231.4M1457.29 1195.15L1507.89 1245.75M1457.29 1209.5L1507.89 1260.1" stroke="#3f51a3" stroke-width="2.6" fill="none" clip-path="url(#c32)"/>
<path d="M1457.29 1216.6V1092.2H1507.89V1216.6" stroke="#3f51a3" stroke-width="3" fill="none" stroke-linejoin="round"/>
<rect x="891.95" y="699.6" width="640.05" height="517" fill="none" stroke="#000" stroke-width="2.6"/>
<path d="M881.45 1216.6H891.95" stroke="#000" stroke-width="2.6"/>
<text transform="translate(874.65 1227.5) scale(1 1.07)" font-family="'Liberation Serif',serif" font-size="34.2" text-anchor="end" stroke="#000" stroke-width="0.1">0</text>
<path d="M881.45 1044.27H891.95" stroke="#000" stroke-width="2.6"/>
<text transform="translate(874.65 1055.17) scale(1 1.07)" font-family="'Liberation Serif',serif" font-size="34.2" text-anchor="end" stroke="#000" stroke-width="0.1">2</text>
<path d="M881.45 871.93H891.95" stroke="#000" stroke-width="2.6"/>
<text transform="translate(874.65 882.83) scale(1 1.07)" font-family="'Liberation Serif',serif" font-size="34.2" text-anchor="end" stroke="#000" stroke-width="0.1">4</text>
<path d="M881.45 699.6H891.95" stroke="#000" stroke-width="2.6"/>
<text transform="translate(874.65 710.5) scale(1 1.07)" font-family="'Liberation Serif',serif" font-size="34.2" text-anchor="end" stroke="#000" stroke-width="0.1">6</text>
<text transform="translate(972.1 1254.1) scale(1 1.04)" font-family="'Liberation Serif',serif" font-size="34" text-anchor="middle" stroke="#000" stroke-width="0.25">Gills</text>
<text transform="translate(1132.2 1254.1) scale(1 1.04)" font-family="'Liberation Serif',serif" font-size="34" text-anchor="middle" stroke="#000" stroke-width="0.25">Foot</text>
<text transform="translate(1292 1254.1) scale(1 1.04)" font-family="'Liberation Serif',serif" font-size="34" text-anchor="middle" stroke="#000" stroke-width="0.25">Mantle</text>
<text transform="translate(1448.3 1254.1) scale(1 1.04)" font-family="'Liberation Serif',serif" font-size="34" text-anchor="middle" stroke="#000" stroke-width="0.25">Viscera</text>
<text transform="translate(942.7 1064.8) scale(1 1.01)" font-family="'Liberation Serif',serif" font-size="34" text-anchor="middle" stroke="#000" stroke-width="0.25">B</text>
<text x="1004.7" y="1060.4" font-family="'Liberation Serif',serif" font-size="34" text-anchor="middle" stroke="#000" stroke-width="0.25">b</text>
<text transform="translate(1102.4 1050.9) scale(1 1.01)" font-family="'Liberation Serif',serif" font-size="34" text-anchor="middle" stroke="#000" stroke-width="0.25">B</text>
<text x="1164.9" y="1083.5" font-family="'Liberation Serif',serif" font-size="34" text-anchor="middle" stroke="#000" stroke-width="0.25">b</text>
<text transform="translate(1262.1 1053.4) scale(1 1.01)" font-family="'Liberation Serif',serif" font-size="34" text-anchor="middle" stroke="#000" stroke-width="0.25">B</text>
<text x="1322" y="1010.5" font-family="'Liberation Serif',serif" font-size="34" text-anchor="middle" stroke="#000" stroke-width="0.25">a</text>
<text transform="translate(1423.9 919.6) scale(0.95 1)" font-family="'Liberation Serif',serif" font-size="34" text-anchor="middle" stroke="#000" stroke-width="0.25">A</text>
<text x="1481.9" y="995.9" font-family="'Liberation Serif',serif" font-size="34" text-anchor="middle" stroke="#000" stroke-width="0.25">a</text>
<text transform="translate(1448.8 901.1) scale(1 1.257)" font-family="'Liberation Serif',serif" font-size="36.7" text-anchor="middle" stroke="#000" stroke-width="0.2">*</text>
<text transform="translate(1287.3 995.1) scale(1 1.257)" font-family="'Liberation Serif',serif" font-size="36.7" text-anchor="middle" stroke="#000" stroke-width="0.2">*</text>
<text transform="translate(801.3 955.2) rotate(-90) scale(1 1)" font-family="'Liberation Serif',serif" font-size="34" text-anchor="middle" stroke="#000" stroke-width="0.15">MPs abundance</text>
<text transform="translate(843 955.2) rotate(-90) scale(1 1)" font-family="'Liberation Serif',serif" font-size="34" text-anchor="middle" stroke="#000" stroke-width="0.15">(items/tissue)</text>
<text x="1210.2" y="1304.1" font-family="'Liberation Serif',serif" font-size="58" text-anchor="middle" font-style="italic" stroke="#fff" stroke-width="0.45">C. sinensis</text>
<text transform="translate(813.4 660.9) scale(1.04 1.0001)" font-family="'Liberation Sans',sans-serif" font-size="28.8" text-anchor="start" font-weight="bold" stroke="#000" stroke-width="0.15">D</text>
</g>
<path d="M1414.5 786.4h3.2m1.8 0h3" stroke="#c4c4c4" stroke-width="0.9" fill="none"/>
<g id="legend">
<clipPath id="c33"><rect x="1223.4" y="63.8" width="76.4" height="37.2"/></clipPath>
<path d="M1223.4 67L1299.8 -9.4M1223.4 81.35L1299.8 4.95M1223.4 95.7L1299.8 19.3M1223.4 110.05L1299.8 33.65M1223.4 124.4L1299.8 48M1223.4 138.75L1299.8 62.35M1223.4 153.1L1299.8 76.7M1223.4 167.45L1299.8 91.05" stroke="#ec1c24" stroke-width="2.6" fill="none" clip-path="url(#c33)"/>
<rect x="1223.4" y="63.8" width="76.4" height="37.2" stroke="#ec1c24" stroke-width="2.9" fill="none"/>
<clipPath id="c34"><rect x="1223.4" y="109.7" width="76.4" height="37.6"/></clipPath>
<path d="M1223.4 35.95L1299.8 112.35M1223.4 50.3L1299.8 126.7M1223.4 64.65L1299.8 141.05M1223.4 79L1299.8 155.4M1223.4 93.35L1299.8 169.75M1223.4 107.7L1299.8 184.1M1223.4 122.05L1299.8 198.45M1223.4 136.4L1299.8 212.8" stroke="#3f51a3" stroke-width="2.6" fill="none" clip-path="url(#c34)"/>
<rect x="1223.4" y="109.7" width="76.4" height="37.6" stroke="#3f51a3" stroke-width="2.9" fill="none"/>
<text x="1308.5" y="94.4" font-family="'Liberation Serif',serif" font-size="34" text-anchor="start" stroke="#000" stroke-width="0.25">Pre-depuration</text>
<text x="1308.5" y="139.6" font-family="'Liberation Serif',serif" font-size="34" text-anchor="start" stroke="#000" stroke-width="0.25">Post-depuration</text>
</g>
</svg></body></html>
